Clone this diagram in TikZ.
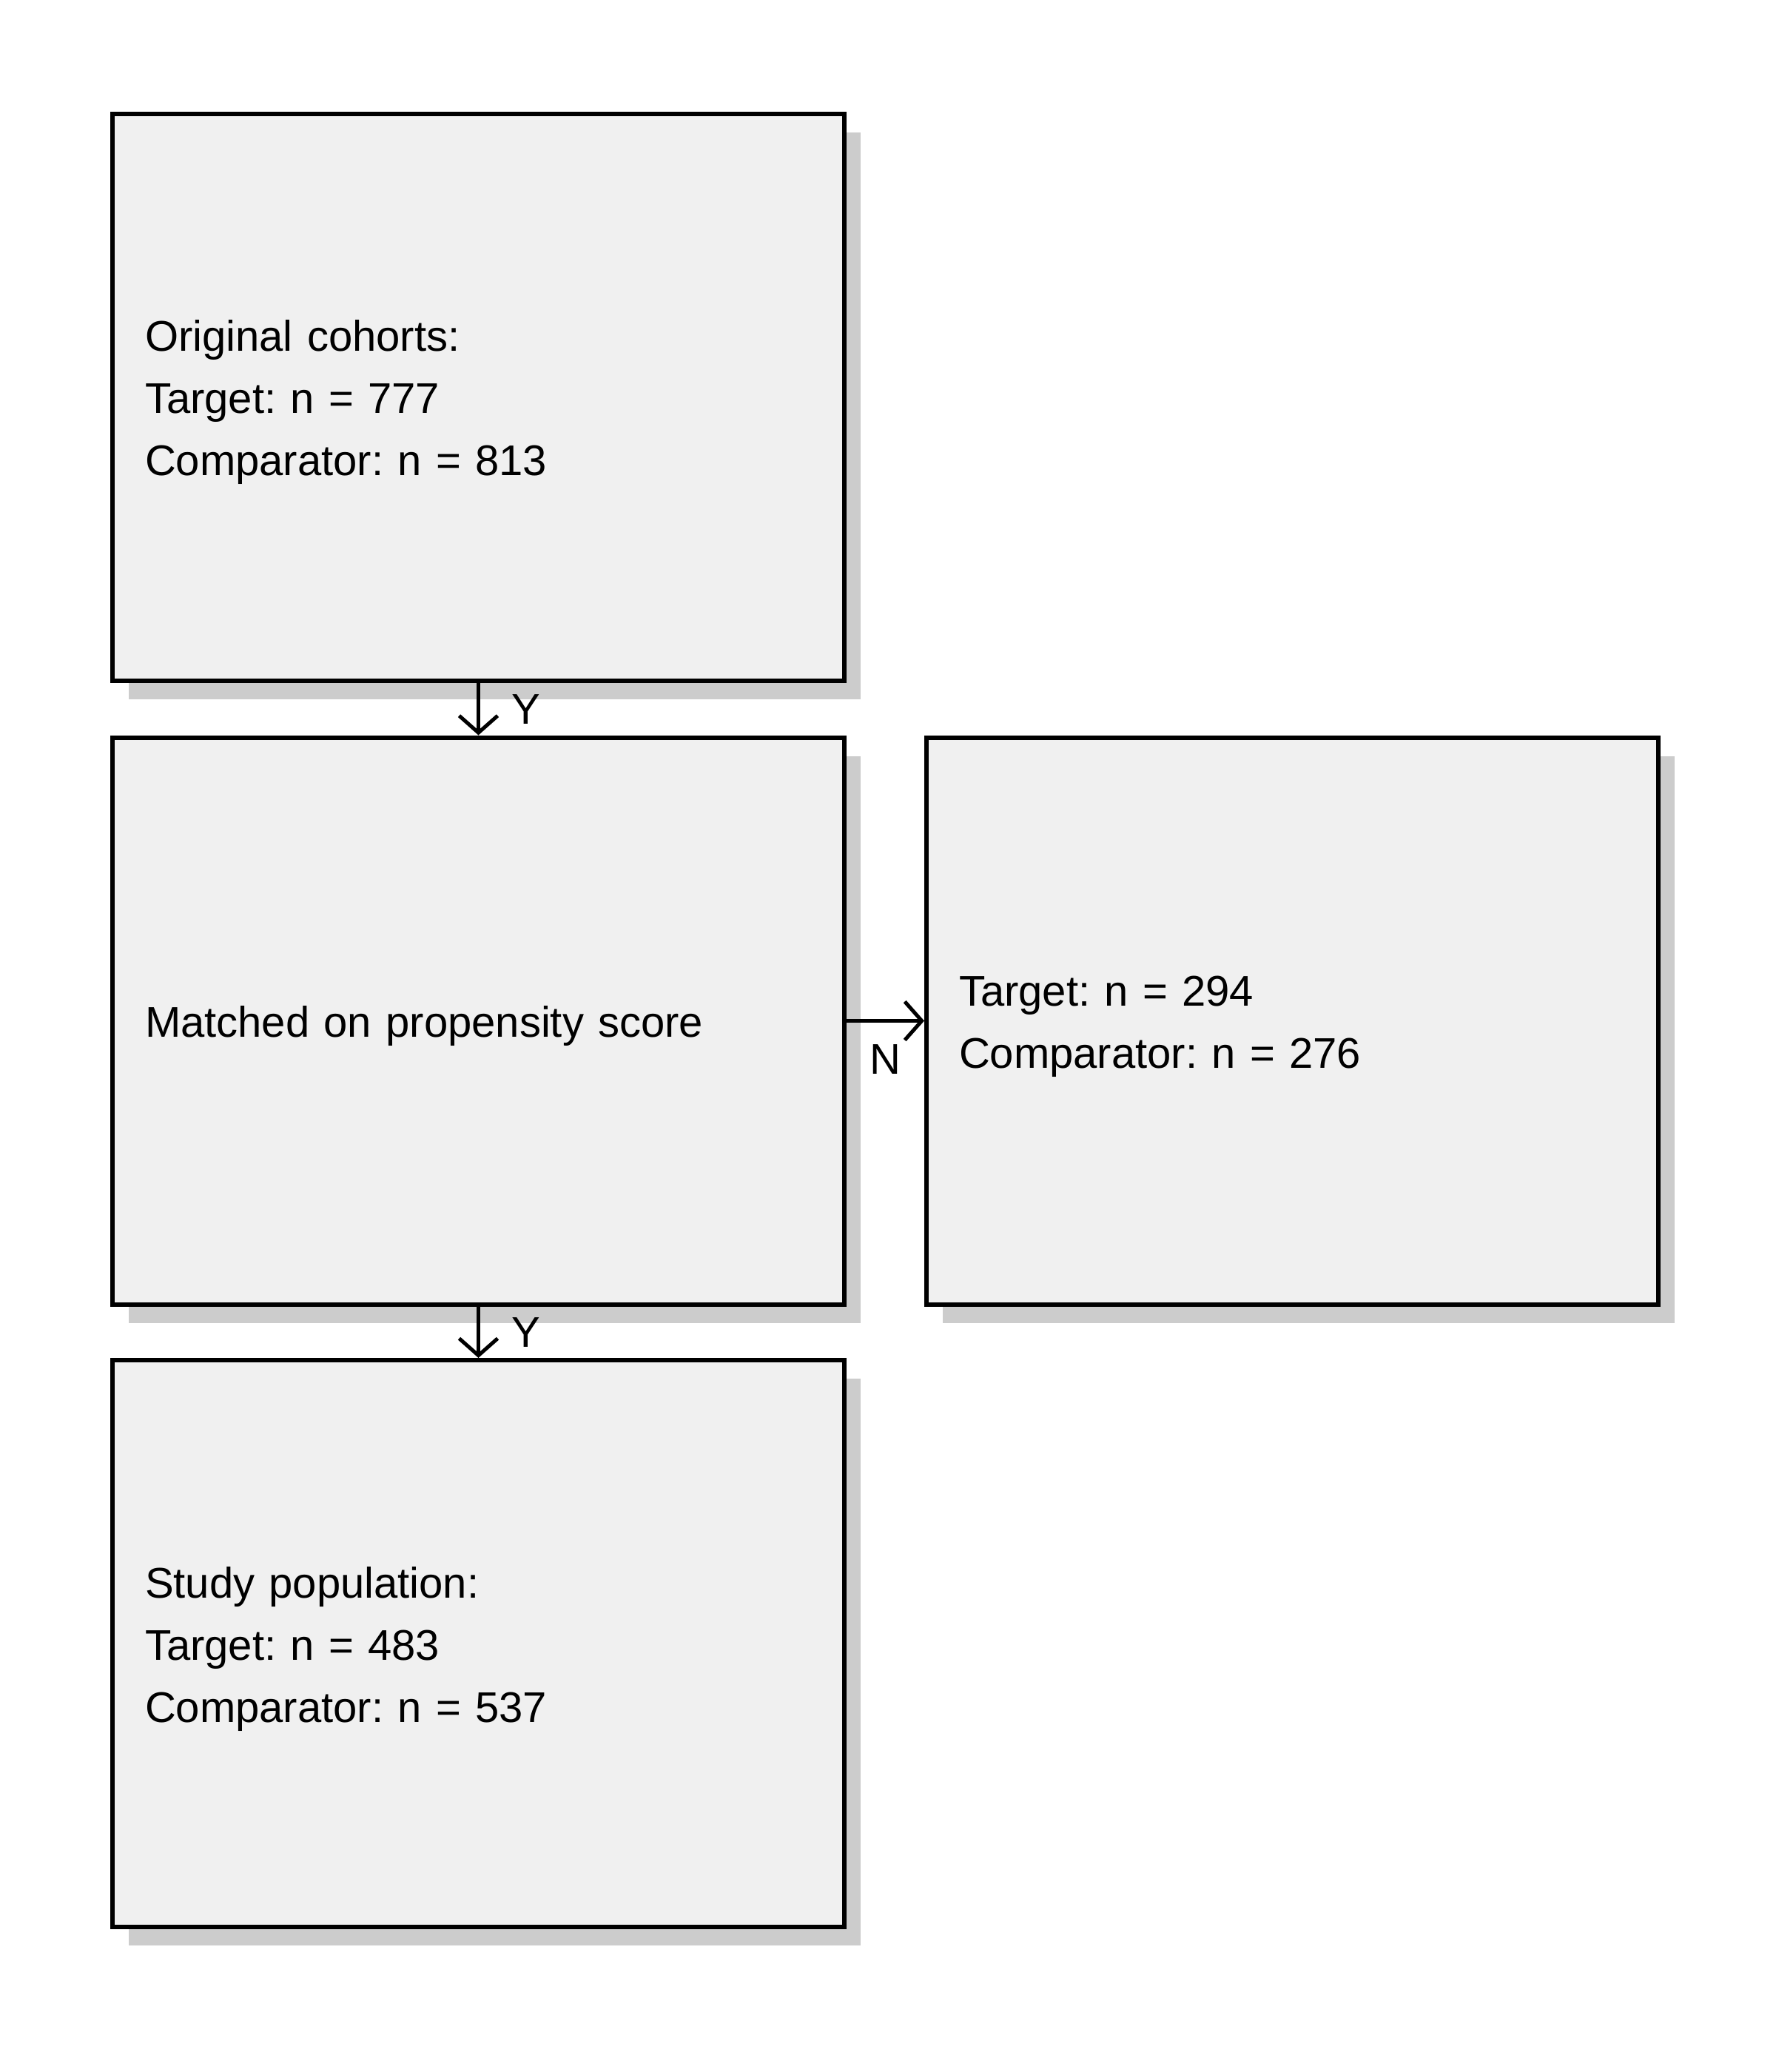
\documentclass[tikz,border=0pt]{standalone}
\usepackage{fontspec}
\setmainfont{Liberation Sans}
\frenchspacing
\usetikzlibrary{shadows,arrows.meta}
\definecolor{boxfill}{RGB}{240,240,240}
\definecolor{shadowgray}{RGB}{204,204,204}
\tikzset{
  flowbox/.style={draw=black, line width=0.06cm, fill=boxfill,
    minimum width=9.89cm, minimum height=7.66cm, inner xsep=0.44cm, inner ysep=0pt,
    text width=9.01cm, align=left,
    font=\fontsize{16.5pt}{23.9pt}\selectfont,
    execute at begin node={\rule{0pt}{0.56cm}},
    drop shadow={shadow xshift=0.22cm, shadow yshift=-0.25cm, fill=shadowgray, opacity=1}},
  conn/.style={draw=black, line width=0.05cm, -{Straight Barb[length=0.23cm,width=0.52cm,line width=0.05cm]}},
  lbl/.style={font=\fontsize{16.5pt}{23.9pt}\selectfont, inner sep=0pt}
}
\begin{document}
\begin{tikzpicture}
\useasboundingbox (0,0) rectangle (24,-28);
\node[flowbox] (orig) at (6.465,-5.37) {Original cohorts:\\Target: n = 777\\Comparator: n = 813};
\node[flowbox] (match) at (6.465,-13.795) {Matched on propensity score};
\node[flowbox] (unmatched) at (17.465,-13.795) {Target: n = 294\\Comparator: n = 276};
\node[flowbox] (study) at (6.465,-22.21) {Study population:\\Target: n = 483\\Comparator: n = 537};
\draw[conn] (orig.south) -- node[lbl, anchor=west, xshift=0.42cm] {Y} (match.north);
\draw[conn] (match.east) -- node[lbl, anchor=north, yshift=-0.3cm] {N} (unmatched.west);
\draw[conn] (match.south) -- node[lbl, anchor=west, xshift=0.42cm] {Y} (study.north);
\end{tikzpicture}
\end{document}
